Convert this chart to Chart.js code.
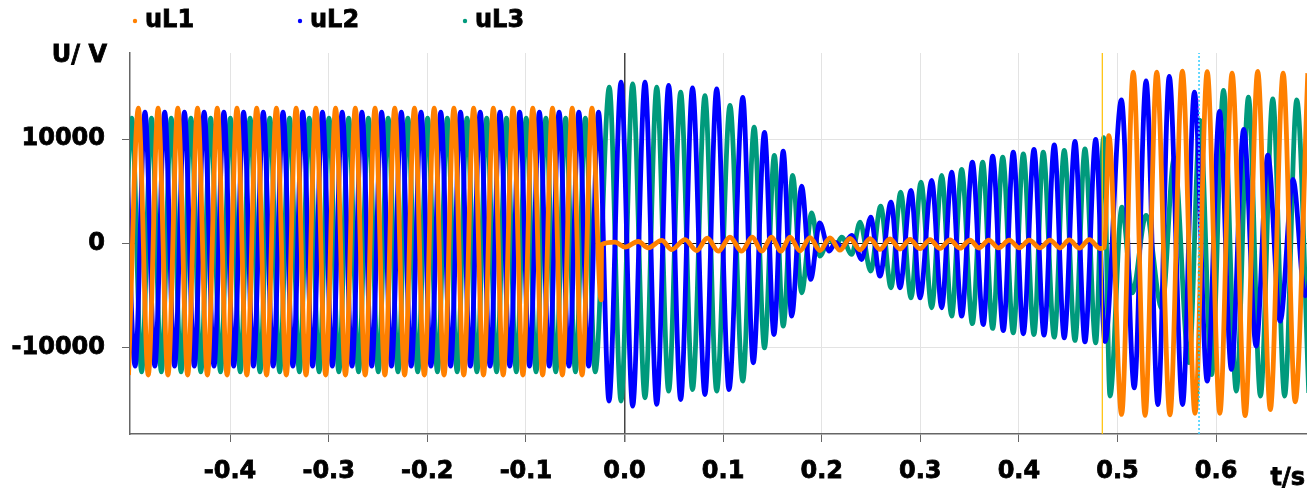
<!DOCTYPE html>
<html>
<head>
<meta charset="utf-8">
<script src="https://cdn.jsdelivr.net/npm/chart.js@4.4.1/dist/chart.umd.min.js"></script>
<style>
  html, body { margin: 0; padding: 0; background: #fff; }
</style>
</head>
<body>
<canvas id="wave" width="1307" height="491"></canvas>
<script>
// Series names and colours
const seriesNames = ['uL1', 'uL2', 'uL3'];
const seriesColors = ['#FF8000', '#0000FF', '#009A7C'];

// Extremes of each waveform: [time in ms, voltage]
const uL1 = [
  [-503, -12590], [-493, 12950], [-483, -12590], [-473, 12950], [-463, -12590], [-453, 12950], [-443, -12590], [-433, 12950], [-423, -12590], [-413, 12950],
  [-403, -12590], [-393, 12950], [-383, -12590], [-373, 12950], [-363, -12590], [-353, 12950], [-343, -12590], [-333, 12950], [-323, -12590], [-313, 12950],
  [-303, -12590], [-293, 12950], [-283, -12590], [-273, 12950], [-263, -12590], [-253, 12950], [-243, -12590], [-233, 12950], [-223, -12590], [-213, 12950],
  [-203, -12590], [-193, 12950], [-183, -12590], [-173, 12950], [-163, -12590], [-153, 12950], [-143, -12590], [-133, 12950], [-123, -12590], [-113, 12950],
  [-103, -12590], [-93, 12950], [-83, -12590], [-73, 12950], [-63, -12590], [-53, 12950], [-43, -12590], [-33, 12950],
  [-23.7, -5400], [-23.3, -100],
  [-9.6, 125], [0.5, -350], [14, 190], [24.1, -415], [37.7, 290], [47.9, -575], [61.4, 380], [73.2, -670], [84, 510], [95.1, -735],
  [107, 600], [118.9, -735], [129.6, 600], [139.2, -735], [149.2, 600], [158.5, -735], [167.9, 600], [178, -700], [188.2, 560], [198.3, -670],
  [208.4, 530], [218.5, -640], [228.7, 500], [238.8, -600], [249, 470], [259.1, -570], [269.3, 430], [279.4, -530], [289.6, 400], [299.7, -500],
  [309.8, 380], [320, -470], [330.1, 350], [340.3, -450], [350.4, 330], [359.6, -430], [369.5, 320], [379.3, -420], [390.3, 320], [400.4, -420],
  [410.5, 320], [421.4, -420], [431.5, 330], [441.7, -430], [451.1, 350], [461.3, -450], [471.4, 380], [482.3, -480], [486.8, -350],
  [491.2, 10330], [504.2, -16360], [516, 16390], [528, -16450], [539.8, 16390], [553.2, -16400], [565.8, 16500], [578.6, -16250], [591, 16450], [603.8, -16250],
  [616.2, 16300], [629.5, -16480], [642.2, 16460], [655, -15900], [668, 16300], [680.2, -15150], [693, 16300]
];

const uL2 = [
  [-506.3, 12570], [-496.3, -11730], [-486.3, 12570], [-476.3, -11730], [-466.3, 12570], [-456.3, -11730], [-446.3, 12570], [-436.3, -11730], [-426.3, 12570], [-416.3, -11730],
  [-406.3, 12570], [-396.3, -11730], [-386.3, 12570], [-376.3, -11730], [-366.3, 12570], [-356.3, -11730], [-346.3, 12570], [-336.3, -11730], [-326.3, 12570], [-316.3, -11730],
  [-306.3, 12570], [-296.3, -11730], [-286.3, 12570], [-276.3, -11730], [-266.3, 12570], [-256.3, -11730], [-246.3, 12570], [-236.3, -11730], [-226.3, 12570], [-216.3, -11730],
  [-206.3, 12570], [-196.3, -11730], [-186.3, 12570], [-176.3, -11730], [-166.3, 12570], [-156.3, -11730], [-146.3, 12570], [-136.3, -11730], [-126.3, 12570], [-116.3, -11730],
  [-106.3, 12570], [-96.3, -11730], [-86.3, 12570], [-76.3, -11730], [-66.3, 12570], [-56.3, -11730], [-46.3, 12570], [-36.3, -11730], [-26.3, 12570],
  [-15.7, -15080], [-3.5, 15440], [8.3, -15560], [20.8, 15440], [32.7, -15400], [44.8, 15120], [57, -14930], [69, 14880], [81.6, -14450], [93.5, 14800],
  [106, -13970], [120, 13970], [130.6, -11420], [142, 10630], [151.6, -8710], [161, 8840], [169.6, -6950], [179.7, 5480], [188.8, -3440], [198, 1970],
  [207.7, -730], [214, 100], [220.5, -350], [230.4, 765], [240.6, -1530], [249.7, 2520], [259.1, -3120], [270.3, 3950], [279.4, -4240], [290.6, 5070],
  [299.7, -5200], [311.6, 6030], [321.7, -6150], [331.8, 6820], [342, -6950], [352.8, 7780], [363.9, -7750], [373.4, 8350], [384.2, -8330], [394.3, 8740],
  [404.5, -8640], [415.3, 9000], [425.5, -8770], [435.9, 9440], [446, -9020], [456.9, 9760], [467, -9410], [477.9, 9950], [487.3, -9380], [504, 13730],
  [517, -13810], [529, 15570], [541, -15410], [552.5, 16000], [566, -15410], [578, 14480], [591, -13170], [603.5, 12650], [615.5, -12050], [628, 10920],
  [640.6, -9820], [652.5, 8450], [665, -7430], [678, 6140], [690.2, -5000], [703, 4000]
];

const uL3 = [
  [-509.7, -12280], [-499.7, 11990], [-489.7, -12280], [-479.7, 11990], [-469.7, -12280], [-459.7, 11990], [-449.7, -12280], [-439.7, 11990], [-429.7, -12280], [-419.7, 11990],
  [-409.7, -12280], [-399.7, 11990], [-389.7, -12280], [-379.7, 11990], [-369.7, -12280], [-359.7, 11990], [-349.7, -12280], [-339.7, 11990], [-329.7, -12280], [-319.7, 11990],
  [-309.7, -12280], [-299.7, 11990], [-289.7, -12280], [-279.7, 11990], [-269.7, -12280], [-259.7, 11990], [-249.7, -12280], [-239.7, 11990], [-229.7, -12280], [-219.7, 11990],
  [-209.7, -12280], [-199.7, 11990], [-189.7, -12280], [-179.7, 11990], [-169.7, -12280], [-159.7, 11990], [-149.7, -12280], [-139.7, 11990], [-129.7, -12280], [-119.7, 11990],
  [-109.7, -12280], [-99.7, 11990], [-89.7, -12280], [-79.7, 11990], [-69.7, -12280], [-59.7, 11990], [-49.7, -12280], [-39.7, 11990], [-29.7, -12280],
  [-15.4, 14960], [-3.5, -15080], [8.3, 15280], [20.8, -14770], [32.7, 14960], [44.8, -14130], [57, 14480], [69, -13970], [81.6, 14160], [93.5, -14130],
  [107, 13210], [120, -13170], [131.5, 11130], [142, -9980], [152, 8420], [161, -7900], [170.6, 6510], [179.7, -4720], [189.9, 2930], [198, -1210],
  [208, 450], [214, -250], [220.3, 600], [230.4, -1050], [238.9, 2040], [249.7, -2640], [259.8, 3570], [270.3, -4240], [280.1, 4910], [290.6, -5200],
  [300.7, 5870], [311.6, -6150], [321.7, 6510], [331.8, -6950], [342, 7080], [352.8, -7670], [363.3, 7780], [373.4, -8130], [383.6, 8260], [394.3, -8550],
  [404.5, 8570], [415.3, -8710], [424.7, 8740], [435.9, -8960], [446, 8900], [456.9, -9280], [467, 9050], [477.9, -9500], [486, 10120], [492.4, -14600],
  [504.5, 3470], [515, -4720], [529, 2680], [545, -6200], [557.5, 8180], [572.5, -11400], [583.7, 11770], [595.5, -12540], [607.5, 14640], [620.5, -14120],
  [632.8, 14000], [645, -14600], [657.5, 13840], [669.5, -14600], [681.8, 13740], [694, -14300]
];

const xMin = -0.5015, xMax = 0.6922;
const yMin = -18230, yMax = 18230;

// Cursor lines: time (s), start and end voltage
const cursorTimes = [0.4846, 0.5827, 0.5822, 0.5822];
const cursorFrom = [yMin, yMin, 0, -15700];
const cursorTo = [yMax, yMax, 14000, 0];
const cursorColors = ['#FFC000', '#33CCFF', '#FF33FF', '#33AA33'];

// Axis ticks
const timeTicks = [-0.4, -0.3, -0.2, -0.1, 0, 0.1, 0.2, 0.3, 0.4, 0.5, 0.6];
const timeTickLabels = ['-0.4', '-0.3', '-0.2', '-0.1', '0.0', '0.1', '0.2', '0.3', '0.4', '0.5', '0.6'];
const voltTicks = [-10000, 0, 10000];
const voltTickLabels = ['-10000', '0', '10000'];

const seriesPoints = [uL1, uL2, uL3];
const tickFont = { family: 'DejaVu Sans', weight: 'bold', size: 24 };

const waveSets = seriesNames.map((name, i) => ({
    label: name,
    data: seriesPoints[i].map(p => ({ x: p[0] / 1000, y: p[1] })),
    borderColor: seriesColors[i],
    borderWidth: 4.8,
    pointRadius: 0,
    cubicInterpolationMode: 'monotone',
    borderJoinStyle: 'round',
    order: i + 1
}));

const cursorSets = cursorTimes.map((t, i) => ({
    label: 'cursor' + (i + 1),
    data: [{ x: t, y: cursorFrom[i] }, { x: t, y: cursorTo[i] }],
    borderColor: cursorColors[i],
    borderWidth: i === 0 ? 1.2 : 1.5,
    borderDash: i === 0 ? [] : (i === 1 ? [2, 2] : [2, 6]),
    borderDashOffset: i > 1 ? 2 : 0,
    pointRadius: 0,
    tension: 0,
    order: 0
}));

// Legend and axis titles drawn in the margins
const textPlugin = {
    id: 'textPlugin',
    afterDraw(chart) {
        const ctx = chart.ctx;
        ctx.save();
        ctx.font = 'bold 24px "DejaVu Sans"';
        ctx.textBaseline = 'middle';
        ctx.lineWidth = 0.8;
        ctx.strokeStyle = '#000';
        const put = (s, x, y) => { ctx.fillText(s, x, y); ctx.strokeText(s, x, y); };
        seriesNames.forEach((name, i) => {
            const x = 135 + i * 165;
            ctx.fillStyle = seriesColors[i];
            ctx.beginPath();
            ctx.arc(x, 21, 2.2, 0, Math.PI * 2);
            ctx.fill();
            ctx.fillStyle = '#000';
            ctx.textAlign = 'left';
            put(name, x + 10, 21);
        });
        ctx.textAlign = 'right';
        put('U/ V', 107, 56);
        put('t/s', 1305, 479);
        ctx.restore();
    }
};

const ctx = document.getElementById('wave').getContext('2d');
new Chart(ctx, {
    type: 'line',
    data: { datasets: waveSets.concat(cursorSets) },
    options: {
        responsive: false,
        animation: false,
        layout: { padding: { top: 53, left: 0, right: 0, bottom: 0 } },
        plugins: { legend: { display: false }, tooltip: { enabled: false } },
        scales: {
            x: {
                type: 'linear',
                min: xMin,
                max: xMax,
                afterBuildTicks: scale => { scale.ticks = timeTicks.map(v => ({ value: v })); },
                afterFit: scale => { scale.height = 57; },
                ticks: {
                    autoSkip: false,
                    maxRotation: 0,
                    padding: 15,
                    color: '#000',
                    textStrokeColor: '#000',
                    textStrokeWidth: 0.8,
                    font: tickFont,
                    callback: (value, index) => timeTickLabels[index]
                },
                grid: {
                    color: c => (c.tick && c.tick.value === 0 ? '#444' : '#e3e3e3'),
                    lineWidth: c => (c.tick && c.tick.value === 0 ? 1.5 : 1),
                    tickColor: '#666',
                    tickLength: 8
                },
                border: { color: '#666', width: 1.5 }
            },
            y: {
                min: yMin,
                max: yMax,
                afterBuildTicks: scale => { scale.ticks = voltTicks.map(v => ({ value: v })); },
                afterFit: scale => { scale.width = 130; },
                ticks: {
                    padding: 17,
                    color: '#000',
                    textStrokeColor: '#000',
                    textStrokeWidth: 0.8,
                    font: tickFont,
                    callback: (value, index) => voltTickLabels[index]
                },
                grid: {
                    color: c => (c.tick && c.tick.value === 0 ? '#111' : '#e3e3e3'),
                    tickColor: '#666',
                    tickLength: 8
                },
                border: { color: '#666', width: 1.5 }
            }
        }
    },
    plugins: [textPlugin]
});
</script>
</body>
</html>
